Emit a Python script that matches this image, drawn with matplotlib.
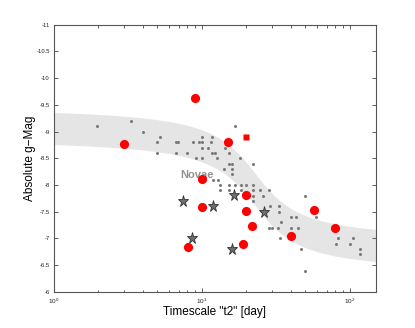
import numpy as np
import matplotlib
matplotlib.use("Agg")
import matplotlib.pyplot as plt
from matplotlib.ticker import LogLocator, FixedLocator

plt.rcParams['font.family'] = ['Liberation Sans', 'DejaVu Sans']
plt.rcParams['axes.unicode_minus'] = False
plt.rcParams['mathtext.fontset'] = 'custom'
plt.rcParams['mathtext.rm'] = 'Liberation Sans'

# Galactic novae (small gray dots)
dots_t2 = [1.95, 3.32, 3.99, 5.25, 4.99, 4.99, 6.66, 6.89, 6.66, 7.99, 8.66, 9.51,
           10.0, 10.0, 10.0, 11.1, 9.09, 10.0, 11.5, 11.8, 14.3, 11.8, 12.3, 15.3,
           12.6, 18.2, 16.7, 15.3, 15.9, 22.3, 14.2, 15.9, 15.9, 11.9, 12.9, 13.3,
           15.3, 16.7, 18.3, 19.9, 22.3, 13.3, 15.3, 18.3, 22.3, 24.9, 28.6, 22.3,
           26.1, 22.3, 50.1, 29.0, 33.5, 33.5, 40.2, 43.6, 59.3, 34.5, 28.6, 30.0,
           32.9, 40.2, 44.6, 34.0, 46.7, 84.0, 106.0, 80.4, 101.0, 118.0, 118.0, 50.1]
dots_mag = [-9.1, -9.2, -9.0, -8.9, -8.8, -8.6, -8.8, -8.8, -8.6, -8.6, -8.8, -8.8,
            -8.8, -8.9, -8.7, -8.7, -8.5, -8.5, -8.8, -8.9, -8.7, -8.6, -8.6, -8.6,
            -8.5, -8.5, -9.1, -8.4, -8.4, -8.4, -8.3, -8.3, -8.2, -8.1, -8.1, -8.0,
            -8.0, -8.0, -8.0, -8.0, -8.0, -7.9, -7.9, -7.9, -7.9, -7.9, -7.9, -7.8,
            -7.8, -7.7, -7.8, -7.6, -7.6, -7.5, -7.4, -7.4, -7.4, -7.3, -7.2, -7.2,
            -7.2, -7.2, -7.2, -7.0, -6.8, -7.0, -7.0, -6.9, -6.9, -6.8, -6.7, -6.4]

# Red circles
red_t2 = [2.98, 9.02, 15.0, 10.0, 10.0, 8.01, 20.0, 20.0, 21.9, 19.0, 40.2, 57.3, 79.5]
red_mag = [-8.76, -9.62, -8.81, -8.11, -7.58, -6.84, -7.82, -7.51, -7.24, -6.90, -7.04, -7.54, -7.20]

# Red square
sq_t2 = [20.0]
sq_mag = [-8.90]

# Gray stars
star_t2 = [7.45, 8.57, 12.0, 16.6, 26.4, 16.0]
star_mag = [-7.70, -7.00, -7.60, -7.81, -7.50, -6.80]

# MMRD relation band, +/- 0.3 mag
mmrd_a, mmrd_b, mmrd_c, mmrd_d = -7.92, 0.81, 1.36, 0.23
band_half = 0.3

fig = plt.figure(figsize=(4.15, 3.28), dpi=100)
ax = fig.add_axes([0.13, 0.11, 0.775, 0.815])

t = np.logspace(0, np.log10(150), 400)
mm = mmrd_a - mmrd_b * np.arctan((mmrd_c - np.log10(t)) / mmrd_d)
ax.fill_between(t, mm - band_half, mm + band_half, color='#e5e5e5', lw=0, zorder=1)

ax.plot(dots_t2, dots_mag, 'o', ms=2.2, color='#7a7a7a', mec='none', zorder=2)
ax.plot(red_t2, red_mag, 'o', ms=6.6, color='#ff0000', mec='none', zorder=4)
ax.plot(sq_t2, sq_mag, 's', ms=5, color='#ff0000', mec='none', zorder=4)
ax.plot(star_t2, star_mag, '*', ms=8.2, color='#6e6e6e', mec='#333333', mew=0.6, zorder=3)

ax.text(9.27, -8.19, 'Novae', color='#939393', fontsize=8, fontweight='bold',
        ha='center', va='center', zorder=3)

ax.set_xscale('log')
ax.set_xlim(1, 150)
ax.set_ylim(-6, -11)
ax.set_yticks(np.arange(-11, -5.9, 0.5))
ax.set_yticklabels(['-11', '-10.5', '-10', '-9.5', '-9', '-8.5', '-8', '-7.5', '-7', '-6.5', '-6'])
ax.xaxis.set_major_locator(FixedLocator([1, 10, 100]))
ax.set_xticklabels([r'$10^0$', r'$10^1$', r'$10^2$'])
ax.xaxis.set_minor_locator(LogLocator(base=10, subs=np.arange(2, 10)))

ax.tick_params(which='both', direction='in', top=True, right=True, colors='#444444',
               labelcolor='#222222', width=0.6)
ax.tick_params(axis='y', labelsize=4.2, pad=3)
ax.tick_params(axis='x', labelsize=4.6, pad=3.5)
ax.tick_params(which='major', length=3)
ax.tick_params(which='minor', length=1.8)
for s in ax.spines.values():
    s.set_color('#555555')
    s.set_linewidth(0.8)

ax.set_xlabel('Timescale "t2" [day]', fontsize=8.5, labelpad=0)
ax.set_ylabel('Absolute g\u2212Mag', fontsize=8.5, labelpad=0.5)

fig.savefig('out.png', dpi=100, facecolor='white')
